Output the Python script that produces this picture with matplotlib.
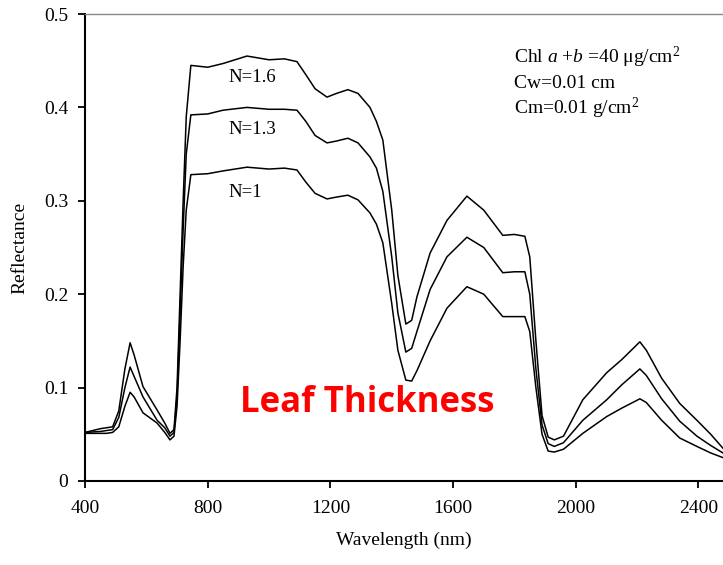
import matplotlib
matplotlib.use("Agg")
import matplotlib.pyplot as plt

plt.rcParams['font.family'] = ['Liberation Serif', 'DejaVu Serif']
plt.rcParams['mathtext.fontset'] = 'custom'
plt.rcParams['mathtext.rm'] = 'Liberation Serif'
plt.rcParams['mathtext.it'] = 'Liberation Serif:italic'

# wavelength (nm)
wl = [400, 450, 470, 490, 510, 530, 547, 560, 589, 635, 660, 677, 690, 700, 710,
      720, 730, 745, 800, 850, 928, 1000, 1050, 1091, 1120, 1150, 1189, 1220,
      1257, 1290, 1329, 1350, 1371, 1400, 1420, 1446, 1465, 1482, 1525, 1580,
      1645, 1700, 1762, 1800, 1834, 1850, 1870, 1890, 1910, 1930, 1960, 2023,
      2101, 2150, 2209, 2230, 2280, 2339, 2395, 2440, 2480]

refl_n16 = [0.052, 0.056, 0.057, 0.058, 0.075, 0.120, 0.148, 0.135, 0.101, 0.076,
            0.062, 0.051, 0.055, 0.10, 0.20, 0.30, 0.39, 0.445, 0.443, 0.447,
            0.455, 0.451, 0.452, 0.449, 0.435, 0.420, 0.411, 0.415, 0.419, 0.415,
            0.400, 0.385, 0.365, 0.29, 0.22, 0.168, 0.172, 0.197, 0.244, 0.279,
            0.305, 0.290, 0.263, 0.264, 0.262, 0.24, 0.15, 0.07, 0.047, 0.044,
            0.048, 0.087, 0.116, 0.130, 0.149, 0.140, 0.110, 0.083, 0.065, 0.050,
            0.035]

refl_n13 = [0.052, 0.053, 0.054, 0.055, 0.068, 0.100, 0.122, 0.112, 0.090, 0.065,
            0.057, 0.048, 0.052, 0.09, 0.18, 0.27, 0.35, 0.392, 0.393, 0.397,
            0.400, 0.398, 0.398, 0.397, 0.385, 0.370, 0.362, 0.364, 0.367, 0.362,
            0.347, 0.335, 0.31, 0.24, 0.18, 0.138, 0.142, 0.160, 0.205, 0.240,
            0.261, 0.250, 0.223, 0.224, 0.224, 0.20, 0.12, 0.06, 0.040, 0.037,
            0.041, 0.065, 0.087, 0.103, 0.120, 0.113, 0.088, 0.064, 0.048, 0.038,
            0.030]

refl_n1 = [0.051, 0.051, 0.051, 0.052, 0.058, 0.080, 0.095, 0.090, 0.073, 0.062,
           0.052, 0.044, 0.048, 0.08, 0.15, 0.23, 0.29, 0.328, 0.329, 0.332,
           0.336, 0.334, 0.335, 0.333, 0.320, 0.308, 0.302, 0.304, 0.306, 0.301,
           0.287, 0.275, 0.255, 0.19, 0.14, 0.108, 0.107, 0.118, 0.150, 0.185,
           0.208, 0.200, 0.176, 0.176, 0.176, 0.16, 0.10, 0.05, 0.032, 0.031,
           0.034, 0.051, 0.069, 0.078, 0.088, 0.084, 0.065, 0.046, 0.037, 0.030,
           0.025]

labels = ['N=1.6', 'N=1.3', 'N=1']
label_y = [0.4325, 0.376, 0.309]

xticks = [400, 800, 1200, 1600, 2000, 2400]
yticks = [0, 0.1, 0.2, 0.3, 0.4, 0.5]
ytick_labels = ['0', '0.1', '0.2', '0.3', '0.4', '0.5']

fig = plt.figure(figsize=(7.23, 5.65), dpi=100)
ax = fig.add_axes([0.1176, 0.1487, 0.8824, 0.8265])

for r in (refl_n16, refl_n13, refl_n1):
    ax.plot(wl, r, color='black', linewidth=1.1)

for lab, yy in zip(labels, label_y):
    ax.text(866, yy, lab, fontsize=13.5, va='center', ha='left')

# parameter note, top right
ax.text(0.672, 0.895, r'Chl $a$ +$b$ =40 $\mathrm{\mu}$g/cm$^2$', transform=ax.transAxes,
        fontsize=14, va='baseline')
ax.text(0.672, 0.841, 'Cw=0.01 cm', transform=ax.transAxes, fontsize=14, va='baseline')
ax.text(0.672, 0.786, r'Cm=0.01 g/cm$^2$', transform=ax.transAxes, fontsize=14, va='baseline')

ax.text(1321, 0.083, 'Leaf Thickness', color='#ff0000', fontsize=25, fontweight='bold',
        family=['Open Sans', 'DejaVu Sans'], ha='center', va='center')

ax.set_xlim(400, 2480)
ax.set_ylim(0, 0.5)
ax.set_xticks(xticks)
ax.set_yticks(yticks)
ax.set_yticklabels(ytick_labels)
ax.tick_params(direction='out', length=5, width=1.3, labelsize=14)
ax.tick_params(axis='x', pad=9)
ax.tick_params(axis='y', pad=7)
ax.set_xlabel('Wavelength (nm)', fontsize=14, labelpad=10)
ax.set_ylabel('Reflectance', fontsize=14, labelpad=11)

ax.spines['right'].set_visible(False)
ax.spines['top'].set_color('#888888')
ax.spines['top'].set_linewidth(1.0)
ax.spines['left'].set_linewidth(1.5)
ax.spines['bottom'].set_linewidth(1.5)

fig.savefig('out.png', dpi=100)
